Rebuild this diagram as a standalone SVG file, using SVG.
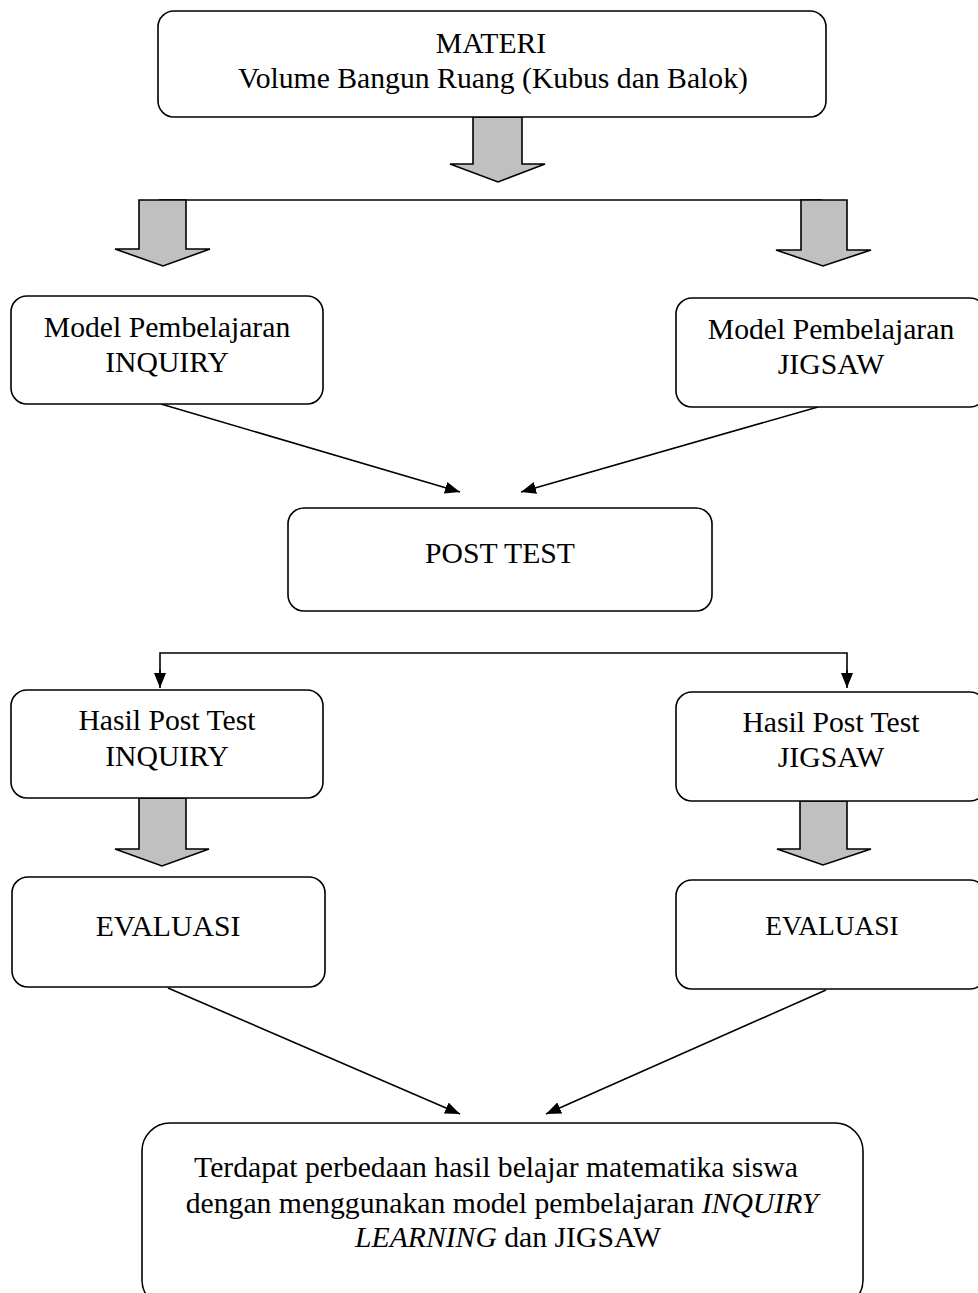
<svg xmlns="http://www.w3.org/2000/svg" width="978" height="1293" viewBox="0 0 978 1293">
<style>
.box{fill:#fff;stroke:#000;stroke-width:1.6}
.blk{fill:#c0c0c0;stroke:#000;stroke-width:1.6;stroke-linejoin:miter}
.t{font-family:"Liberation Serif","Times New Roman",serif;font-size:29.7px;fill:#000;text-anchor:middle}
.ln{fill:none;stroke:#000;stroke-width:1.6}
.i{font-style:italic}
</style>
<defs>
<marker id="ah" markerUnits="userSpaceOnUse" markerWidth="16" markerHeight="12" refX="15" refY="6" orient="auto">
<path d="M0,0 L15,6 L0,12 Z" fill="#000"/>
</marker>
</defs>
<rect width="978" height="1293" fill="#fff"/>

<g id="connectors">
<path class="blk" d="M473,117 V164 H450 L498,182 L545,164 H522 V117 Z"/>
<line class="ln" x1="159" y1="200" x2="822" y2="200"/>
<path class="blk" d="M139,200 V249 H115 L163,266 L210,249 H186 V200 Z"/>
<path class="blk" d="M801,200 V250 H776 L823,266 L871,250 H847 V200 Z"/>
<line class="ln" x1="161" y1="404" x2="460" y2="492" marker-end="url(#ah)"/>
<line class="ln" x1="818" y1="407" x2="521" y2="492" marker-end="url(#ah)"/>
<path class="ln" d="M160,675 V653 H847 V675" stroke-width="2"/>
<line class="ln" x1="160" y1="670" x2="160" y2="688" marker-end="url(#ah)"/>
<line class="ln" x1="847" y1="670" x2="847" y2="688" marker-end="url(#ah)"/>
<path class="blk" d="M139,798 V849 H115 L162,866 L209,849 H186 V798 Z"/>
<path class="blk" d="M800,801 V849 H777 L823,865 L871,849 H847 V801 Z"/>
<line class="ln" x1="168" y1="988" x2="460" y2="1114" marker-end="url(#ah)"/>
<line class="ln" x1="826" y1="990" x2="546" y2="1114" marker-end="url(#ah)"/>
</g>

<g id="materi">
<rect class="box" x="158" y="11" width="668" height="106" rx="16"/>
<text class="t" x="491" y="53">MATERI</text>
<text class="t" x="493" y="88">Volume Bangun Ruang (Kubus dan Balok)</text>
</g>

<g id="model-inquiry">
<rect class="box" x="11" y="296" width="312" height="108" rx="16"/>
<text class="t" x="167" y="337">Model Pembelajaran</text>
<text class="t" x="167" y="372">INQUIRY</text>
</g>

<g id="model-jigsaw">
<rect class="box" x="676" y="298" width="310" height="109" rx="16"/>
<text class="t" x="831" y="339">Model Pembelajaran</text>
<text class="t" x="831" y="374">JIGSAW</text>
</g>

<g id="post-test">
<rect class="box" x="288" y="508" width="424" height="103" rx="16"/>
<text class="t" x="500" y="563">POST TEST</text>
</g>

<g id="hasil-inquiry">
<rect class="box" x="11" y="690" width="312" height="108" rx="16"/>
<text class="t" x="167" y="730">Hasil Post Test</text>
<text class="t" x="167" y="766">INQUIRY</text>
</g>

<g id="hasil-jigsaw">
<rect class="box" x="676" y="692" width="310" height="109" rx="16"/>
<text class="t" x="831" y="732">Hasil Post Test</text>
<text class="t" x="831" y="767">JIGSAW</text>
</g>

<g id="evaluasi-inquiry">
<rect class="box" x="12" y="877" width="313" height="110" rx="16"/>
<text class="t" x="168" y="936">EVALUASI</text>
</g>

<g id="evaluasi-jigsaw">
<rect class="box" x="676" y="880" width="310" height="109" rx="16"/>
<text class="t" x="832" y="935" style="font-size:27.4px">EVALUASI</text>
</g>

<g id="kesimpulan">
<rect class="box" x="142" y="1123" width="721" height="185" rx="28"/>
<text class="t" x="496" y="1177">Terdapat perbedaan hasil belajar matematika siswa</text>
<text class="t" x="502" y="1213">dengan menggunakan model pembelajaran <tspan class="i">INQUIRY</tspan></text>
<text class="t" x="508" y="1247"><tspan class="i">LEARNING</tspan> dan JIGSAW</text>
</g>
</svg>
